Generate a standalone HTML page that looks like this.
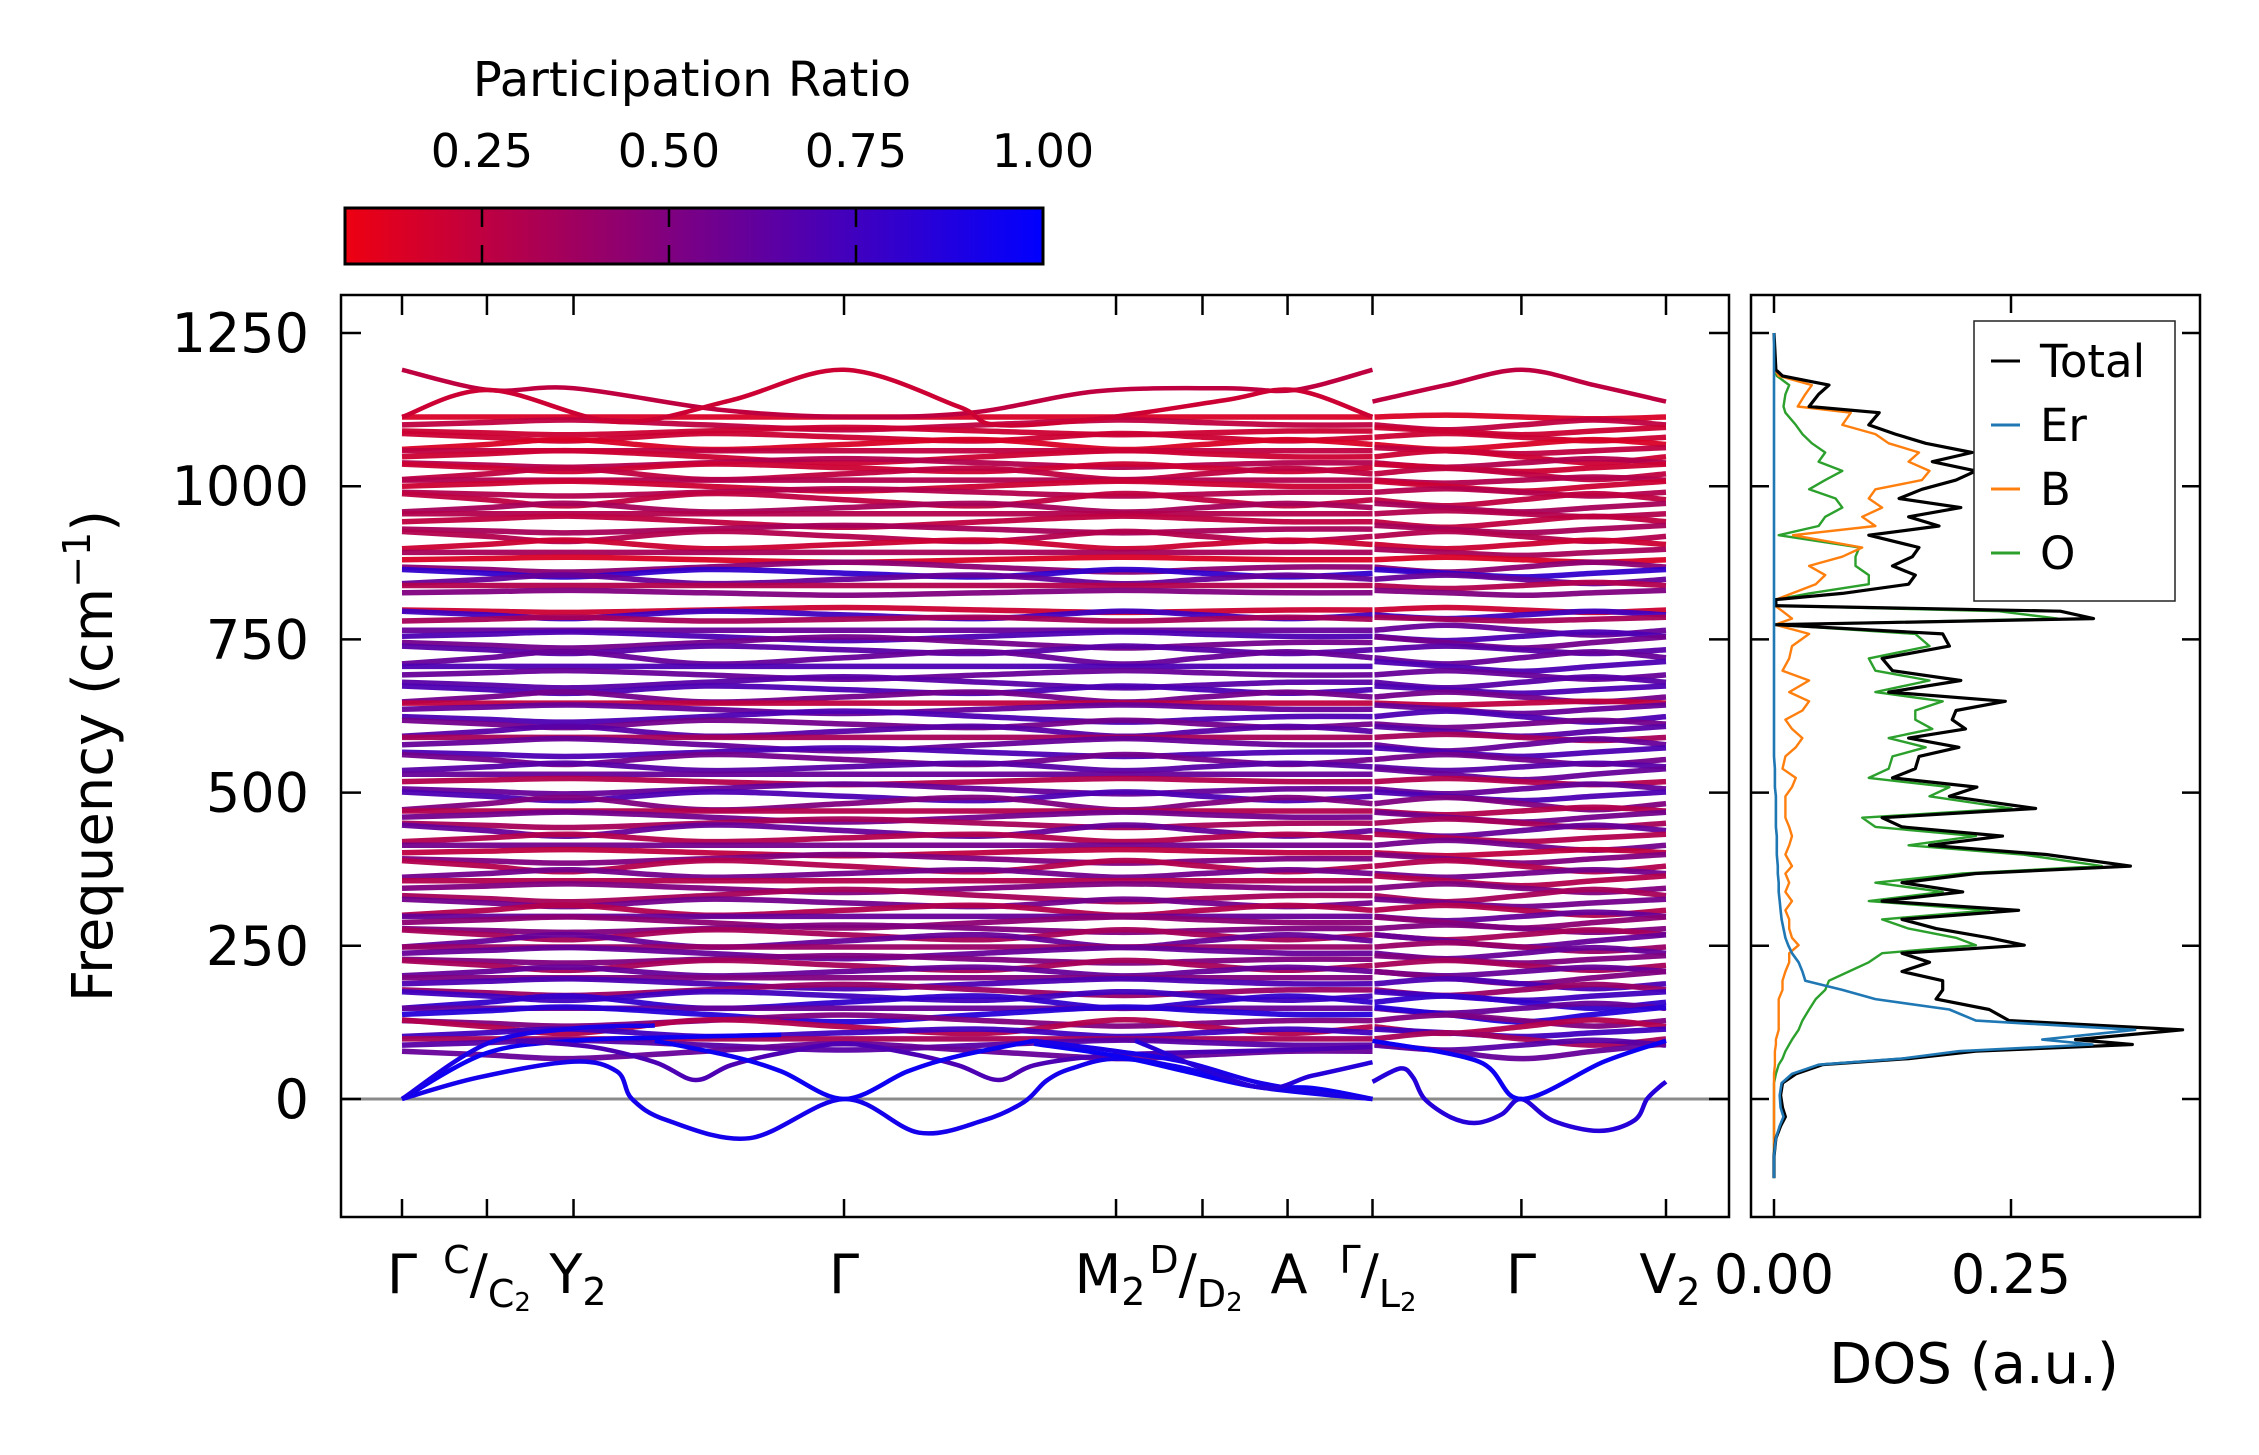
<!DOCTYPE html>
<html><head><meta charset="utf-8"><style>
html,body{margin:0;padding:0;background:#fff;}
svg{display:block;font-family:"DejaVu Sans","Liberation Sans",sans-serif;}
</style></head><body>
<svg id="chart" width="2259" height="1455" viewBox="0 0 2259 1455" xmlns="http://www.w3.org/2000/svg">
<defs>
<linearGradient id="cbgrad" x1="0" x2="1" y1="0" y2="0"></linearGradient>
<clipPath id="bandclip"><rect x="341" y="295" width="1387" height="921"/></clipPath>
<clipPath id="dosclip"><rect x="1751" y="295" width="448" height="921"/></clipPath>
</defs>
<g id="colorbar">
<text x="692" y="96" font-size="48" text-anchor="middle">Participation Ratio</text>
<rect x="345" y="208" width="698" height="56" fill="url(#cbgrad)" stroke="#000" stroke-width="3"/>
<g id="cbticks"></g>
</g>
<g id="main-axes">
<line x1="341" x2="1728" y1="1099" y2="1099" stroke="#8a8a8a" stroke-width="3"/>
<g id="bands" clip-path="url(#bandclip)"></g>
<rect x="341" y="295" width="1388" height="922" fill="none" stroke="#000" stroke-width="2.5"/>
<g id="mainticks"></g>
<text transform="translate(112,756) rotate(-90)" font-size="56" text-anchor="middle">Frequency (cm<tspan font-size="38" dy="-22">−1</tspan><tspan dy="22">)</tspan></text>
</g>
<g id="dos-axes">
<g id="dos" clip-path="url(#dosclip)"></g>
<rect x="1751" y="295" width="449" height="922" fill="none" stroke="#000" stroke-width="2.5"/>
<g id="dosticks"></g>
<text x="1974" y="1383" font-size="56" text-anchor="middle">DOS (a.u.)</text>
<g>
<rect x="1974" y="321" width="201" height="280" fill="#fff" stroke="#222" stroke-width="1.5"/>
<line x1="1991" x2="2020" y1="361" y2="361" stroke="#000" stroke-width="3"/>
<text x="2040" y="377" font-size="45">Total</text>
<line x1="1991" x2="2020" y1="425" y2="425" stroke="#1f77b4" stroke-width="3"/>
<text x="2040" y="441" font-size="45">Er</text>
<line x1="1991" x2="2020" y1="489" y2="489" stroke="#ff7f0e" stroke-width="3"/>
<text x="2040" y="505" font-size="45">B</text>
<line x1="1991" x2="2020" y1="553" y2="553" stroke="#2ca02c" stroke-width="3"/>
<text x="2040" y="569" font-size="45">O</text>
</g>
</g>
<g font-size="54" text-anchor="middle">
<text x="402" y="1293">Γ</text>
<text x="487" y="1293"><tspan font-size="38" dy="-20">C</tspan><tspan dy="20">/</tspan><tspan font-size="38" dy="14">C</tspan><tspan font-size="26" dy="4">2</tspan></text>
<text x="578" y="1293">Y<tspan font-size="38" dy="12">2</tspan></text>
<text x="844" y="1293">Γ</text>
<text x="1110" y="1293">M<tspan font-size="38" dy="12">2</tspan></text>
<text x="1196" y="1293"><tspan font-size="38" dy="-20">D</tspan><tspan dy="20">/</tspan><tspan font-size="38" dy="14">D</tspan><tspan font-size="26" dy="4">2</tspan></text>
<text x="1289" y="1293">A</text>
<text x="1378" y="1293"><tspan font-size="38" dy="-20">Γ</tspan><tspan dy="20">/</tspan><tspan font-size="38" dy="14">L</tspan><tspan font-size="26" dy="4">2</tspan></text>
<text x="1521" y="1293">Γ</text>
<text x="1670" y="1293">V<tspan font-size="38" dy="12">2</tspan></text>
</g>
</svg>
<script>
// ---------- data ----------
const yTicks = [0, 250, 500, 750, 1000, 1250];
const tickK = [0, 0.0672, 0.1357, 0.3497, 0.5649, 0.6333, 0.7006, 0.7678, 0.8856, 1.0];
const cbTicks = [0.25, 0.5, 0.75, 1.0];
const cbTickLabels = ["0.25", "0.50", "0.75", "1.00"];
const dosTicks = [0, 0.25];
const dosTickLabels = ["0.00", "0.25"];

const nodeK1 = [0, 0.0672, 0.1357, 0.24, 0.3497, 0.46, 0.5649, 0.6333, 0.7006, 0.7678];
const nodeK2 = [0.7678, 0.826, 0.8856, 0.943, 1.0];
const shapes1 = [
 [0,0,0,0,0,0,0,0,0,0],
 [0,0.5,1,0,-1,0,1,0.5,0,0],
 [0,-0.5,-1,0,1,0,-1,-0.5,0,0],
 [1,0,-1,1,0,-1,1,0,-1,0],
 [-1,0,1,-1,0,1,-1,0,1,0]
];
const shapes2 = [[0,1,0,-1,0],[0,-1,0,1,0],[1,0,-1,0,1]];

const bandBase = [1113,1100,1090,1080,1068,1058,1048,1038,1030,1020,1010,1000,990,978,965,955,942,930,918,905,892,880,868,858,848,838,826,
798,790,783,765,755,745,733,720,706,692,680,668,656,646,636,624,612,600,590,578,566,554,542,530,518,506,494,482,470,460,450,438,426,414,402,392,380,368,356,344,332,320,308,298,288,278,268,258,248,238,228,218,208,198,188,178,168,158,148,138,128,118,108,98,88,78];
const bandPR = [.15,.25,.2,.2,.15,.25,.2,.3,.2,.25,.3,.2,.3,.25,.35,.3,.25,.35,.3,.2,.35,.15,.45,.8,.6,.3,.5,
.2,.75,.35,.6,.7,.55,.65,.6,.7,.6,.65,.7,.55,.25,.6,.7,.55,.65,.35,.6,.7,.55,.65,.6,.3,.6,.7,.5,.3,.55,.35,.6,.3,.55,.25,.5,.3,.55,.3,.5,.35,.55,.3,.6,.45,.5,.35,.6,.4,.6,.5,.35,.6,.5,.7,.4,.75,.8,.6,.85,.5,.3,.75,.35,.65,.6];
const bandAmp = [3,8,6,6,8,5,10,7,6,9,5,8,6,10,7,5,9,6,8,7,5,4,8,6,7,5,4,
4,6,3,8,7,9,6,10,8,7,9,6,8,3,7,9,6,8,5,10,7,8,6,9,5,8,7,10,6,8,7,9,6,8,5,7,9,6,8,7,10,6,8,7,9,6,8,10,7,9,6,8,7,10,8,9,7,10,8,12,9,11,6,10,8,12];

// special (dispersive) bands
const specK = [
 [0,0.069,0.136,0.25,0.3497,0.45,0.55,0.65,0.706,0.7678],
 [0,0.069,0.17,0.26,0.3497,0.44,0.47,0.55,0.65,0.706,0.7678],
 [0.7678,0.826,0.8856,0.943,1.0],
 [0,0.06,0.1357,0.17,0.182,0.21,0.275,0.3497,0.409,0.46,0.492,0.51,0.53,0.566,0.62,0.675,0.7678],
 [0,0.067,0.1357,0.2,0.3],
 [0,0.067,0.1357,0.2],
 [0.09,0.15,0.20,0.232,0.26,0.30,0.3497,0.40,0.44,0.472,0.50,0.55,0.60,0.70,0.7678],
 [0.2,0.26,0.30,0.3497,0.40,0.44,0.5],
 [0.5,0.566,0.62,0.675,0.72,0.7678],
 [0.5,0.566,0.62,0.675,0.72,0.7678],
 [0.58,0.675,0.72,0.7678],
 [0.7678,0.79,0.80,0.809,0.83,0.85,0.87,0.8856,0.91,0.947,0.975,0.985,0.995,1.0],
 [0.7678,0.852,0.8856,0.951,1.0]
];
const specF = [
 [1190,1157,1160,1125,1113,1120,1155,1160,1157,1190],
 [1113,1157,1105,1140,1190,1130,1100,1110,1140,1157,1113],
 [1138,1165,1190,1165,1138],
 [0,35,61,45,0,-35,-64,0,-55,-35,-5,30,50,66,50,20,0],
 [0,75,95,100,105],
 [0,90,115,120],
 [95,85,60,31,55,75,90,75,55,31,55,70,75,80,85],
 [95,70,45,0,45,70,95],
 [90,70,45,20,18,0],
 [95,78,60,28,12,0],
 [95,20,38,60],
 [28,50,35,0,-30,-39,-25,0,-35,-52,-35,0,20,28],
 [95,61,0,61,95]
];
const specPR = [0.25,0.2,0.25,0.92,0.95,0.9,0.7,0.95,0.95,0.9,0.85,0.85,0.95];

// DOS data
const dosFreq = [1250,1190,1180,1165,1150,1130,1120,1100,1085,1070,1055,1040,1025,1010,995,980,965,950,935,920,900,885,870,855,840,825,815,805,796,784,774,759,739,719,699,683,664,649,634,619,604,589,574,559,539,524,509,494,474,459,444,429,414,399,380,368,353,338,323,308,293,278,263,251,238,223,208,193,178,163,146,128,113,97,89,78,66,56,41,26,6,-14,-29,-44,-64,-94,-129];
const dosTotal = [0,.002,.009,.058,.047,.037,.111,.100,.128,.160,.209,.167,.213,.192,.156,.132,.197,.142,.174,.100,.153,.146,.125,.149,.142,.072,.002,.002,.302,.337,.002,.178,.185,.114,.125,.197,.121,.244,.192,.188,.202,.142,.195,.153,.149,.125,.214,.185,.276,.114,.135,.241,.164,.287,.376,.213,.135,.199,.114,.258,.135,.171,.227,.264,.135,.164,.135,.178,.178,.171,.227,.248,.431,.318,.378,.213,.142,.051,.023,.009,.007,.009,.012,.007,.002,0,0];
const dosEr = [0,0,0,0,0,0,0,0,0,0,0,0,0,0,0,0,0,0,0,0,0,0,0,0,0,0,0,0,0,0,0,0,0,0,0,0,0,0,0,0,0,0,0,0,.001,.001,.001,.002,.002,.002,.002,.003,.003,.003,.004,.004,.005,.005,.006,.007,.008,.010,.012,.015,.019,.026,.030,.033,.072,.107,.185,.213,.381,.283,.336,.195,.135,.047,.019,.008,.006,.007,.010,.006,.002,0,0];
const dosB = [0,.001,.005,.040,.033,.025,.081,.072,.107,.121,.153,.142,.164,.156,.107,.100,.114,.093,.107,.020,.093,.072,.037,.054,.044,.019,.002,.001,.009,.019,.001,.037,.019,.016,.009,.037,.016,.037,.030,.012,.019,.030,.023,.012,.009,.023,.019,.012,.012,.012,.016,.019,.016,.012,.019,.012,.016,.012,.019,.012,.016,.016,.019,.026,.016,.016,.012,.009,.009,.005,.005,.005,.005,.002,.002,.001,.001,.001,0,0,0,0,0,0,0,0,0];
const dosO = [0,.001,.003,.016,.012,.010,.012,.023,.030,.040,.054,.047,.072,.054,.037,.065,.072,.054,.047,.005,.090,.086,.086,.100,.100,.037,.002,.002,.237,.299,.002,.149,.164,.100,.107,.164,.107,.178,.149,.149,.167,.121,.160,.125,.121,.100,.185,.164,.251,.093,.107,.213,.142,.262,.346,.199,.107,.178,.100,.227,.114,.142,.192,.213,.114,.100,.079,.058,.054,.044,.037,.030,.026,.019,.016,.012,.009,.005,.002,0,0,0,0,0,0,0,0];

// ---------- scales ----------
const NS = "http://www.w3.org/2000/svg";
function xOf(k){ return 402 + k * 1264; }
function yOf(f){ return 1099 - f * 0.6128; }
function dosX(v){ return 1774 + v * 948; }
function prColor(p){ return `rgb(${Math.round(255*(1-p))},0,${Math.round(255*p)})`; }
function smooth(pts){
  let d = `M${pts[0][0].toFixed(1)},${pts[0][1].toFixed(1)}`;
  for (let i = 0; i < pts.length - 1; i++){
    const p0 = pts[i-1] || pts[i], p1 = pts[i], p2 = pts[i+1], p3 = pts[i+2] || pts[i+1];
    const c1x = p1[0] + (p2[0]-p0[0])/6, c1y = p1[1] + (p2[1]-p0[1])/6;
    const c2x = p2[0] - (p3[0]-p1[0])/6, c2y = p2[1] - (p3[1]-p1[1])/6;
    d += ` C${c1x.toFixed(1)},${c1y.toFixed(1)} ${c2x.toFixed(1)},${c2y.toFixed(1)} ${p2[0].toFixed(1)},${p2[1].toFixed(1)}`;
  }
  return d;
}
function mk(tag, attrs, parent){
  const e = document.createElementNS(NS, tag);
  for (const a in attrs) e.setAttribute(a, attrs[a]);
  parent.appendChild(e);
  return e;
}
function ln(parent, x1, y1, x2, y2, w){
  const l = mk("line", {x1:x1, y1:y1, x2:x2, y2:y2, stroke:"#000", "stroke-width":w}, parent);
  
  
  return l;
}

// ---------- colorbar ----------
const grad = document.getElementById("cbgrad");
for (let i = 0; i <= 10; i++){
  const t = i/10, p = 0.068 + t*(1-0.068);
  mk("stop", {offset: t, "stop-color": prColor(p)}, grad);
}
const cbT = document.getElementById("cbticks");
function cbX(v){ return 1043 - (1 - v) * 748; }
cbTicks.forEach((v, i) => {
  if (v < 1){ ln(cbT, cbX(v), 208, cbX(v), 227, 2.5); ln(cbT, cbX(v), 245, cbX(v), 264, 2.5); }
  const t = mk("text", {x: cbX(v), y: 167, "font-size": 46, "text-anchor": "middle"}, cbT);
  
  
  t.textContent = cbTickLabels[i];
});

// ---------- bands ----------
const bandsG = document.getElementById("bands");
bandBase.forEach((f, i) => {
  const s1 = shapes1[i % shapes1.length], s2 = shapes2[i % shapes2.length], a = bandAmp[i] || 6;
  const pts1 = nodeK1.map((k, j) => [xOf(k), yOf(f + a * s1[j])]);
  const pts2 = nodeK2.map((k, j) => [xOf(k) + (j === 0 ? 2 : 0), yOf(f + a * s2[j])]);
  [pts1, pts2].forEach(pts => {
    const p = mk("path", {d: smooth(pts), fill: "none", stroke: prColor(bandPR[i]), "stroke-width": 5.5, "stroke-opacity": 0.95}, bandsG);
    
    
  });
});
specK.forEach((ks, i) => {
  const pts = ks.map((k, j) => [xOf(k), yOf(specF[i][j])]);
  const p = mk("path", {d: smooth(pts), fill: "none", stroke: prColor(specPR[i]), "stroke-width": 4.5}, bandsG);
  
  
});

// ---------- main ticks ----------
const mT = document.getElementById("mainticks");
tickK.forEach(k => { ln(mT, xOf(k), 1217, xOf(k), 1199, 2.5); ln(mT, xOf(k), 295, xOf(k), 315, 2.5); });
yTicks.forEach(v => {
  ln(mT, 341, yOf(v), 361, yOf(v), 2.5); ln(mT, 1709, yOf(v), 1729, yOf(v), 2.5);
  const t = mk("text", {x: 309, y: yOf(v) + 19, "font-size": 54, "text-anchor": "end"}, mT);
  
  
  t.textContent = String(v);
});

// ---------- DOS ----------
const dG = document.getElementById("dos");
const series = [[dosO, "#2ca02c", 2.4, "dos-o"], [dosB, "#ff7f0e", 2.4, "dos-b"], [dosTotal, "#000", 3.2, "dos-total"], [dosEr, "#1f77b4", 2.6, "dos-er"]];
series.forEach(s => {
  const pts = dosFreq.map((f, j) => `${dosX(s[0][j]).toFixed(1)},${yOf(f).toFixed(1)}`).join(" ");
  const p = mk("polyline", {points: pts, fill: "none", stroke: s[1], "stroke-width": s[2], "stroke-linejoin": "round"}, dG);
  
  
});
const dT = document.getElementById("dosticks");
yTicks.forEach(v => { ln(dT, 1751, yOf(v), 1769, yOf(v), 2.5); ln(dT, 2182, yOf(v), 2200, yOf(v), 2.5); });
dosTicks.forEach((v, i) => {
  ln(dT, dosX(v), 1217, dosX(v), 1199, 2.5); ln(dT, dosX(v), 295, dosX(v), 313, 2.5);
  const t = mk("text", {x: dosX(v), y: 1293, "font-size": 54, "text-anchor": "middle"}, dT);
  
  
  t.textContent = dosTickLabels[i];
});
</script>
</body></html>
